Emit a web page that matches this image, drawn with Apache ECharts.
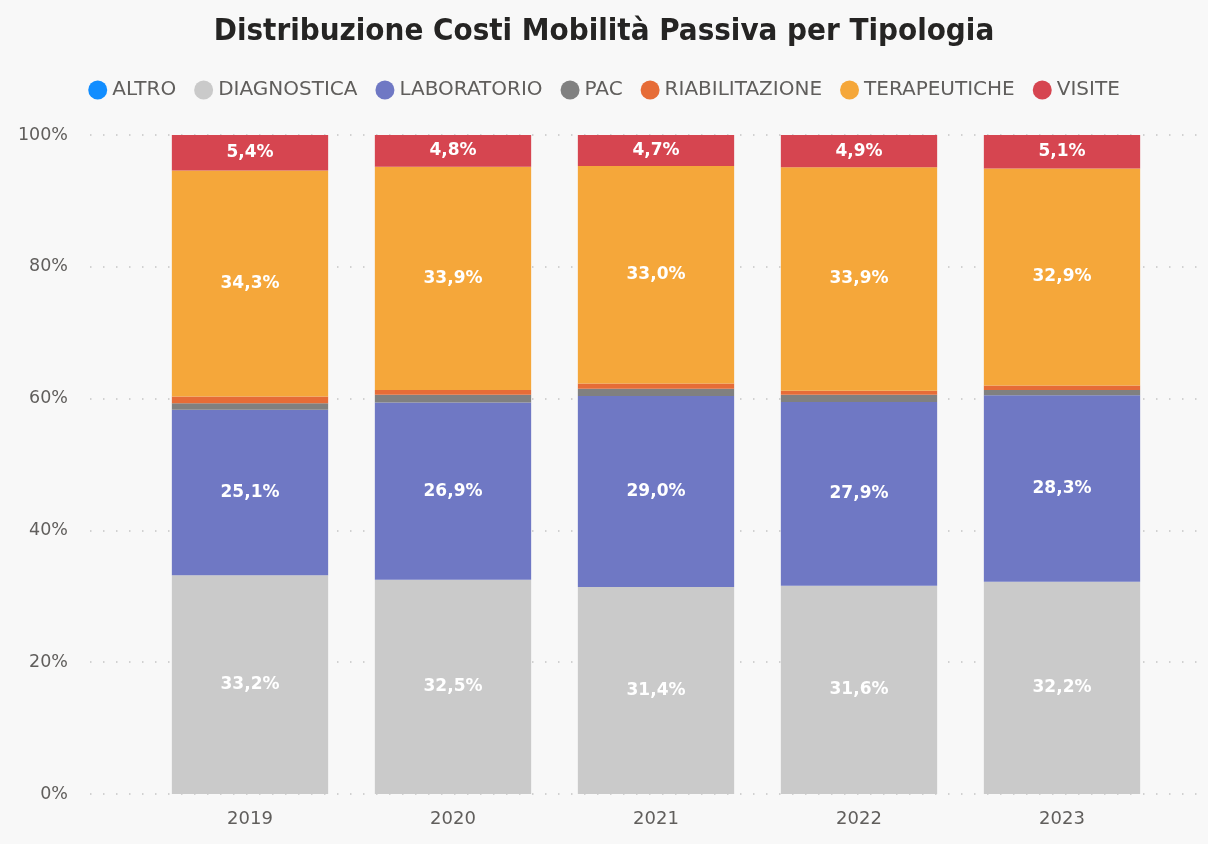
<!DOCTYPE html>
<html>
<head>
<meta charset="utf-8">
<script src="https://cdn.jsdelivr.net/npm/echarts@6/dist/echarts.min.js"></script>
<style>
  html, body { margin: 0; padding: 0; background: #f8f8f8; }
  #chart { width: 1208px; height: 844px; }
</style>
</head>
<body>
<div id="chart"></div>
<script>
// Years on the x axis
const years = ['2019', '2020', '2021', '2022', '2023'];

// Share of passive-mobility costs per type, in percent
const altro          = [0.0, 0.0, 0.0, 0.0, 0.0];
const diagnostica    = [33.2, 32.5, 31.4, 31.6, 32.2];
const laboratorio    = [25.1, 26.9, 29.0, 27.9, 28.3];
const pac            = [1.0, 1.2, 1.1, 1.1, 0.8];
const riabilitazione = [1.0, 0.7, 0.8, 0.6, 0.7];
const terapeutiche   = [34.3, 33.9, 33.0, 33.9, 32.9];
const visite         = [5.4, 4.8, 4.7, 4.9, 5.1];

const yTicks = [0, 20, 40, 60, 80, 100];

const TITLE_FONT = '"DejaVu Sans Condensed", "DejaVu Sans", sans-serif';
const FONT = '"DejaVu Sans", sans-serif';

const seriesDefs = [
  { name: 'ALTRO',          data: altro,          color: '#118DFF', label: false },
  { name: 'DIAGNOSTICA',    data: diagnostica,    color: '#CACACA', label: true },
  { name: 'LABORATORIO',    data: laboratorio,    color: '#6F78C4', label: true },
  { name: 'PAC',            data: pac,            color: '#808080', label: false },
  { name: 'RIABILITAZIONE', data: riabilitazione, color: '#E66C37', label: false },
  { name: 'TERAPEUTICHE',   data: terapeutiche,   color: '#F5A73A', label: true },
  { name: 'VISITE',         data: visite,         color: '#D64550', label: true }
];

const fmt = v => v.toFixed(1).replace('.', ',') + '%';

const chart = echarts.init(document.getElementById('chart'), null, { renderer: 'canvas' });

const plotTop = 135, plotBottom = 844 - 794;

chart.setOption({
  backgroundColor: '#f8f8f8',
  animation: false,
  title: {
    text: 'Distribuzione Costi Mobilità Passiva per Tipologia',
    left: 'center',
    top: 11,
    textStyle: { fontFamily: TITLE_FONT, fontSize: 31, fontWeight: 'bold', color: '#252423' }
  },
  legend: {
    top: 75,
    left: 'center',
    icon: 'circle',
    itemWidth: 19,
    itemHeight: 19,
    itemGap: 18,
    textStyle: { fontFamily: FONT, fontSize: 20, color: '#605E5C', padding: [0, 0, 0, 0] },
    data: seriesDefs.map(s => s.name)
  },
  grid: [
    // background grid carrying the y axis and dotted split lines
    { left: 90, right: 2, top: plotTop, bottom: plotBottom },
    // grid holding the stacked bars
    { left: 148.5, right: 1208 - 1163.5, top: plotTop, bottom: plotBottom }
  ],
  xAxis: [
    { type: 'value', gridIndex: 0, show: false, min: 0, max: 1 },
    {
      type: 'category', gridIndex: 1, data: years,
      axisLine: { show: false }, axisTick: { show: false },
      axisLabel: { fontFamily: FONT, fontSize: 18, color: '#605E5C', margin: 16 }
    }
  ],
  yAxis: [
    {
      type: 'value', gridIndex: 0, min: 0, max: 100, interval: 20,
      axisLine: { show: false }, axisTick: { show: false },
      axisLabel: {
        fontFamily: FONT, fontSize: 17.5, color: '#605E5C', margin: 22,
        formatter: v => yTicks.includes(v) ? v + '%' : ''
      },
      splitLine: { lineStyle: { color: '#c4c4c4', width: 1.5, type: [1.5, 11.5] } }
    },
    {
      type: 'value', gridIndex: 1, min: 0, max: 100, interval: 20,
      show: false, splitLine: { show: false }
    }
  ],
  series: seriesDefs.map(s => ({
    name: s.name,
    type: 'bar',
    stack: 'total',
    xAxisIndex: 1,
    yAxisIndex: 1,
    barWidth: '77%',
    data: s.data,
    itemStyle: { color: s.color },
    label: {
      show: s.label,
      position: 'inside',
      formatter: p => fmt(p.value),
      fontFamily: FONT,
      fontSize: 17,
      fontWeight: 'bold',
      color: '#ffffff'
    }
  }))
});
</script>
</body>
</html>
